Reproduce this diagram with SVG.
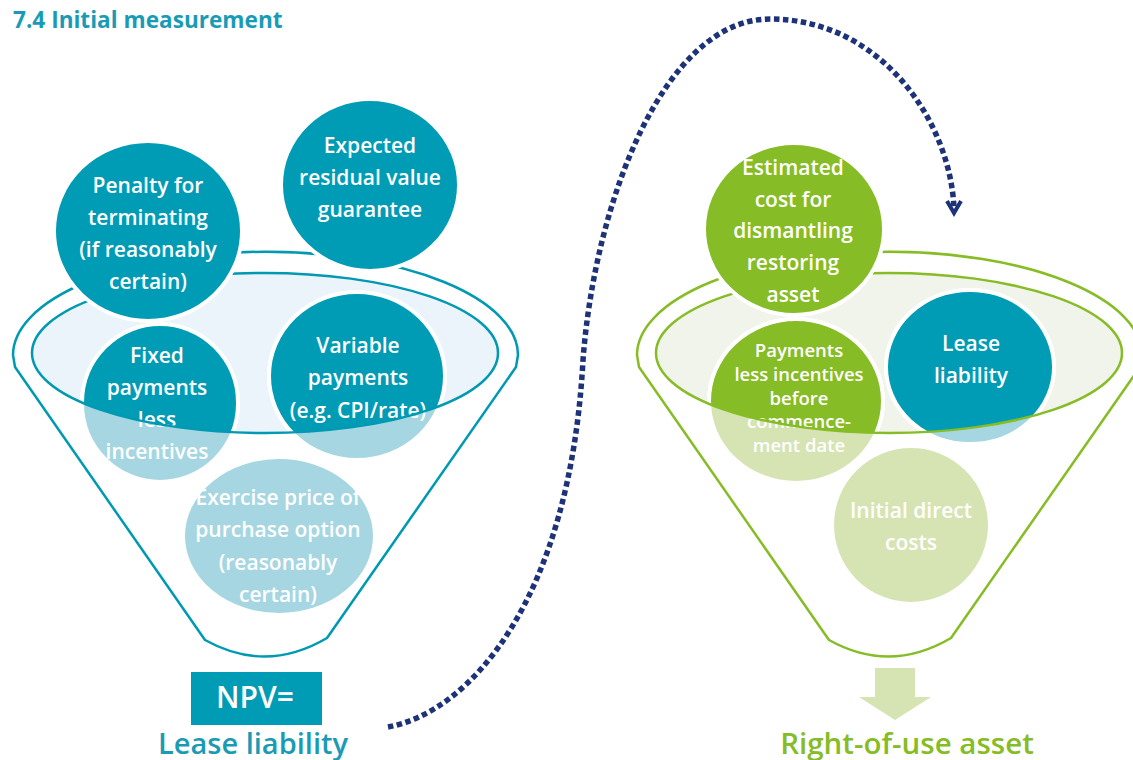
<svg xmlns="http://www.w3.org/2000/svg" width="1133" height="760" viewBox="0 0 1133 760">
<style>
text{font-family:"Open Sans","Noto Sans","Liberation Sans",sans-serif;font-weight:600;text-anchor:middle;fill:#fff}
.t21{font-size:21px}
.t17{font-size:18.5px}
.rimL{fill:none;stroke:#0099b2;stroke-width:2.5}
.rimR{fill:none;stroke:#86bc25;stroke-width:2.5}
.dT{fill:#009bb5;stroke:#fff;stroke-width:4}
.lT{fill:#a6d6e1;stroke:#fff;stroke-width:4}
.dG{fill:#86bc25;stroke:#fff;stroke-width:4}
.lG{fill:#d6e4b4;stroke:#fff;stroke-width:4}
</style>
<defs>
<clipPath id="clipL"><ellipse cx="265" cy="353" rx="233" ry="80"/></clipPath>
<clipPath id="clipR"><ellipse cx="889" cy="353" rx="233" ry="80"/></clipPath>
<path id="funnel" d="M205,640 L15,367 L13,355 A252,103 0 0 1 518,355 L516,367 L327,638 Q266,674 205,640 Z"/>
</defs>

<g id="title">
<text x="13" y="28" style="font-size:22.6px;font-weight:700;text-anchor:start;fill:#1a9bb5">7.4 Initial measurement</text>
</g>

<!-- Left funnel -->
<g id="funnel-left">
<use href="#funnel" class="rimL" fill="#fff"/>
<ellipse cx="265" cy="353" rx="233" ry="80" fill="#ebf3fb"/>
</g>

<g id="node-fixed">
<ellipse class="lT" cx="160" cy="403" rx="78" ry="79"/>
<ellipse class="dT" cx="160" cy="403" rx="78" ry="79" clip-path="url(#clipL)"/>
<text class="t21"><tspan x="157" y="363">Fixed</tspan><tspan x="157" y="395">payments</tspan><tspan x="157" y="427">less</tspan><tspan x="157" y="459">incentives</tspan></text>
</g>

<g id="node-variable">
<ellipse class="lT" cx="357" cy="376" rx="88" ry="84"/>
<ellipse class="dT" cx="357" cy="376" rx="88" ry="84" clip-path="url(#clipL)"/>
<text class="t21"><tspan x="358" y="353">Variable</tspan><tspan x="358" y="385">payments</tspan><tspan x="358" y="418">(e.g. CPI/rate)</tspan></text>
</g>

<g id="funnel-left-rim">
<ellipse cx="265" cy="353" rx="233" ry="80" class="rimL"/>
</g>

<g id="node-exercise">
<ellipse class="lT" cx="279" cy="536" rx="96" ry="79" stroke="none"/>
<text class="t21"><tspan x="278" y="505">Exercise price of</tspan><tspan x="278" y="537">purchase option</tspan><tspan x="278" y="570">(reasonably</tspan><tspan x="278" y="602">certain)</tspan></text>
</g>

<g id="node-penalty">
<ellipse class="dT" cx="148" cy="231" rx="94" ry="90"/>
<text class="t21"><tspan x="148" y="193">Penalty for</tspan><tspan x="148" y="225">terminating</tspan><tspan x="148" y="257">(if reasonably</tspan><tspan x="148" y="289">certain)</tspan></text>
</g>

<g id="node-expected">
<ellipse class="dT" cx="370" cy="185" rx="89" ry="86"/>
<text class="t21"><tspan x="370" y="153">Expected</tspan><tspan x="370" y="185">residual value</tspan><tspan x="370" y="217">guarantee</tspan></text>
</g>

<g id="node-npv">
<rect x="191" y="672" width="131" height="53" fill="#009bb5"/>
<text x="255" y="708" style="font-size:30px">NPV=</text>
</g>

<g id="label-lease-liability">
<text x="253" y="754" style="font-size:29px;fill:#1a9bb5">Lease liability</text>
</g>

<!-- Right funnel -->
<g id="funnel-right">
<use href="#funnel" class="rimR" fill="#fff" transform="translate(624,0)"/>
<ellipse cx="889" cy="353" rx="233" ry="80" fill="#f0f4ea"/>
</g>

<g id="node-payments">
<ellipse class="lG" cx="796" cy="401" rx="87" ry="82"/>
<ellipse class="dG" cx="796" cy="401" rx="87" ry="82" clip-path="url(#clipR)"/>
<text class="t17"><tspan x="799" y="357">Payments</tspan><tspan x="799" y="381">less incentives</tspan><tspan x="799" y="405">before</tspan><tspan x="799" y="428">commence-</tspan><tspan x="799" y="452">ment date</tspan></text>
</g>

<g id="node-lease">
<ellipse class="lT" cx="970" cy="367" rx="84" ry="77"/>
<ellipse class="dT" cx="970" cy="367" rx="84" ry="77" clip-path="url(#clipR)"/>
<text class="t21"><tspan x="971" y="351">Lease</tspan><tspan x="971" y="383">liability</tspan></text>
</g>

<g id="funnel-right-rim">
<ellipse cx="889" cy="353" rx="233" ry="80" class="rimR"/>
</g>

<g id="node-initial">
<ellipse class="lG" cx="911" cy="525" rx="79" ry="79" stroke="none"/>
<text class="t21"><tspan x="911" y="518">Initial direct</tspan><tspan x="911" y="550">costs</tspan></text>
</g>

<g id="node-estimated">
<ellipse class="dG" cx="794" cy="229" rx="90" ry="86"/>
<text class="t21"><tspan x="793" y="175">Estimated</tspan><tspan x="793" y="207">cost for</tspan><tspan x="793" y="238">dismantling</tspan><tspan x="793" y="270">restoring</tspan><tspan x="793" y="302">asset</tspan></text>
</g>

<g id="label-rou">
<text x="907" y="754" style="font-size:29.5px;fill:#86bc25">Right-of-use asset</text>
</g>

<g id="connectors">
<path d="M388,727 C470,712 570,600 583,360 C595,200 665,19 770,19 C880,19 950,120 954,208" fill="none" stroke="#1d3278" stroke-width="5.5" stroke-dasharray="5.5 3.5"/>
<polyline points="947,201 954,213 961,201" fill="none" stroke="#1d3278" stroke-width="4"/>
<polygon points="875,668 915,668 915,697 931,697 895,720 859,697 875,697" fill="#d6e4b4"/>
</g>
</svg>
